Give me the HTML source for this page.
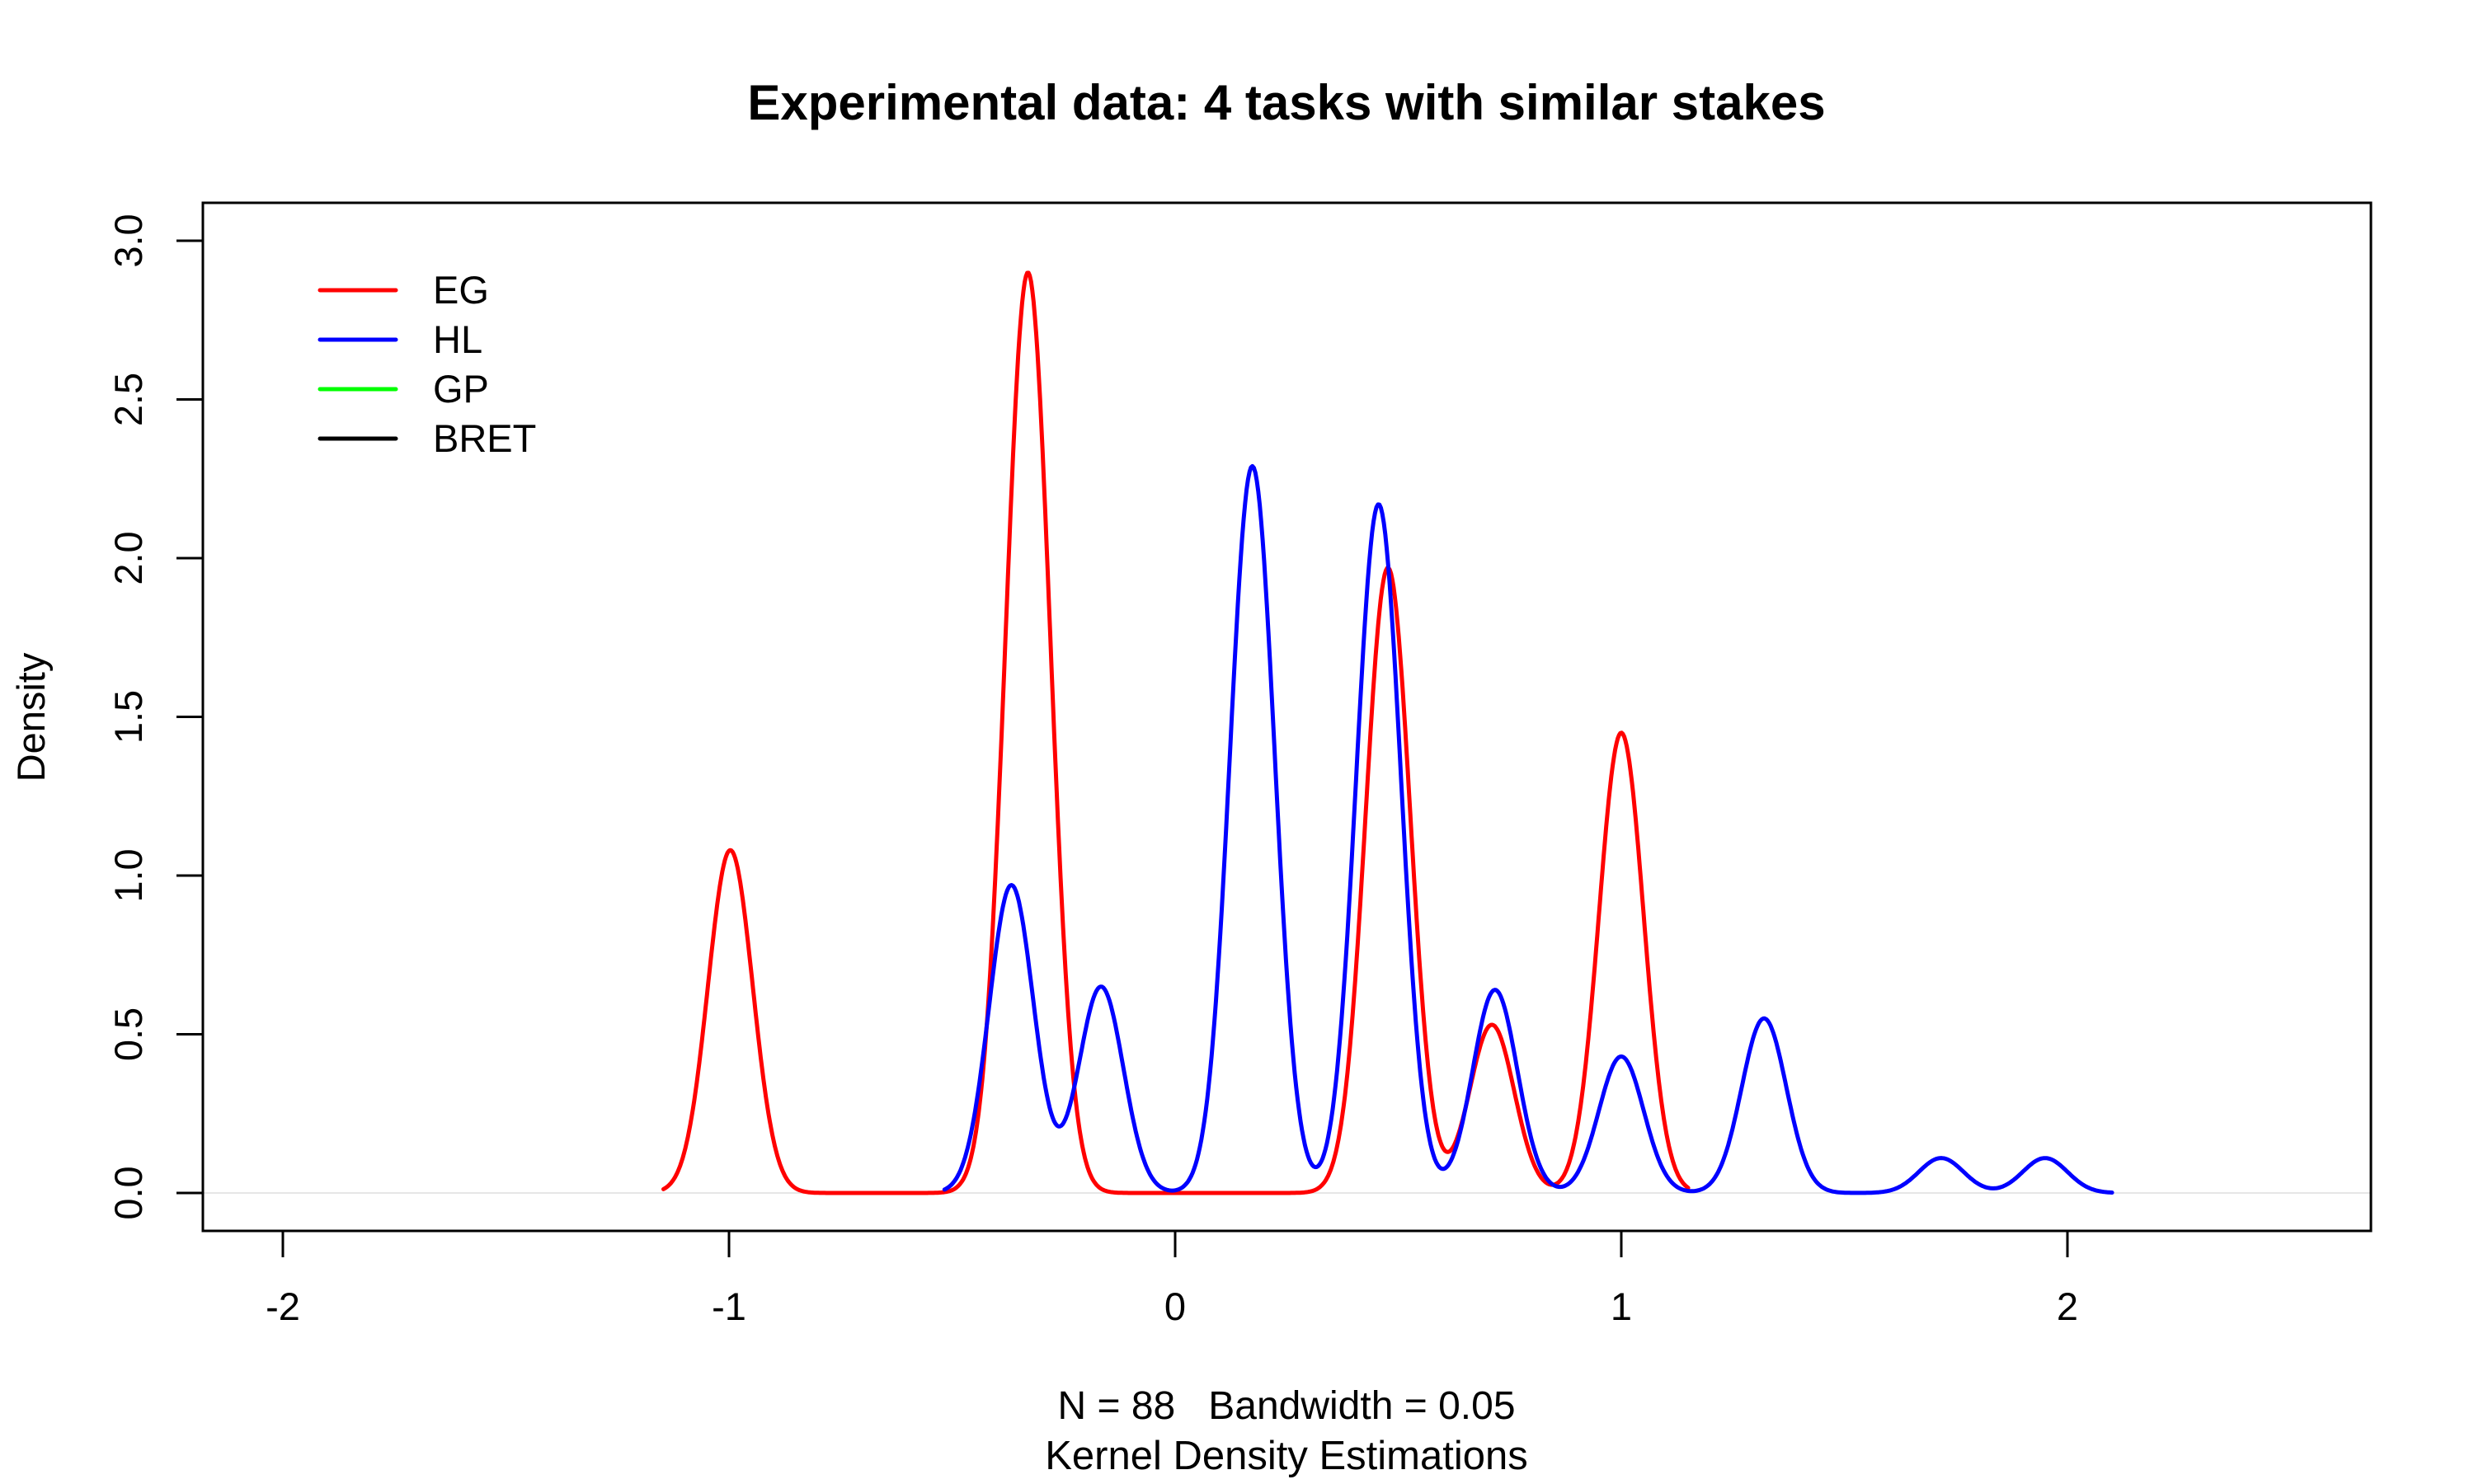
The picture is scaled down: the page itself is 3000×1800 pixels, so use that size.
<!DOCTYPE html>
<html><head><meta charset="utf-8"><style>
html,body{margin:0;padding:0;background:#fff}
svg{display:block;font-family:"Liberation Sans",Arial,sans-serif}
text{white-space:pre}
</style></head><body>
<svg id="chart" width="3000" height="1800" viewBox="0 0 3000 1800" xmlns="http://www.w3.org/2000/svg">
<rect width="3000" height="1800" fill="#fff"/>
<text x="1560" y="145" font-size="60" font-weight="bold" text-anchor="middle">Experimental data: 4 tasks with similar stakes</text>
<line x1="246" x2="2875" y1="1447" y2="1447" stroke="#e6e6e6" stroke-width="2"/>
<g id="axes"></g>
<g id="series"></g>
<rect x="246" y="246" width="2629" height="1247" fill="none" stroke="#000" stroke-width="3"/>
<text transform="translate(54,870) rotate(-90)" font-size="47" text-anchor="middle">Density</text>
<text x="1560" y="1721" font-size="48" text-anchor="middle" xml:space="preserve">N = 88   Bandwidth = 0.05</text>
<text x="1560" y="1782" font-size="49" text-anchor="middle">Kernel Density Estimations</text>
<g>
<line x1="388" x2="480" y1="352" y2="352" stroke="#ff0000" stroke-width="5" stroke-linecap="round"/>
<text x="525" y="368" font-size="47">EG</text>
<line x1="388" x2="480" y1="412" y2="412" stroke="#0000ff" stroke-width="5" stroke-linecap="round"/>
<text x="525" y="428" font-size="47">HL</text>
<line x1="388" x2="480" y1="472" y2="472" stroke="#00ff00" stroke-width="5" stroke-linecap="round"/>
<text x="525" y="488" font-size="47">GP</text>
<line x1="388" x2="480" y1="532" y2="532" stroke="#000" stroke-width="5" stroke-linecap="round"/>
<text x="525" y="548" font-size="47">BRET</text>
</g>
</svg>
<script>
const xTicks = [-2, -1, 0, 1, 2];
const yTicks = [0, 0.5, 1, 1.5, 2, 2.5, 3];
const yTickLabels = ["0.0", "0.5", "1.0", "1.5", "2.0", "2.5", "3.0"];
const bandwidth = 0.05;
const egCenters = [-0.997, -0.33, 0.477, 0.71, 1.0];
const egHeights = [1.08, 2.90, 1.97, 0.53, 1.45];
const hlCenters = [-0.367, -0.166, 0.173, 0.456, 0.717, 1.0, 1.32, 1.717, 1.95];
const hlHeights = [0.97, 0.65, 2.29, 2.17, 0.64, 0.43, 0.55, 0.11, 0.11];

const NS = "http://www.w3.org/2000/svg";
const X = v => 1425 + v * 541;
const Y = v => 1447 - v * 385;
const axes = document.getElementById('axes');
const series = document.getElementById('series');
function mk(tag, attrs, parent) {
  const e = document.createElementNS(NS, tag);
  for (const k in attrs) e.setAttribute(k, attrs[k]);
  parent.appendChild(e);
  return e;
}
xTicks.forEach(t => {
  const l = mk('line', {x1: X(t), x2: X(t), y1: 1493, y2: 1525, stroke: '#000', 'stroke-width': 3}, axes);
  
  
  const tx = mk('text', {x: X(t), y: 1601, 'font-size': 47, 'text-anchor': 'middle'}, axes);
  
  
  tx.textContent = String(t);
});
yTicks.forEach((t, i) => {
  const l = mk('line', {x1: 214, x2: 246, y1: Y(t), y2: Y(t), stroke: '#000', 'stroke-width': 3}, axes);
  
  
  const tx = mk('text', {transform: `translate(172,${Y(t)}) rotate(-90)`, 'font-size': 47, 'text-anchor': 'middle'}, axes);
  
  
  tx.textContent = yTickLabels[i];
});
function curve(centers, heights, color, name) {
  const lo = Math.min(...centers) - 3 * bandwidth, hi = Math.max(...centers) + 3 * bandwidth;
  let d = '';
  const n = 800;
  for (let i = 0; i <= n; i++) {
    const x = lo + (hi - lo) * i / n;
    let y = 0;
    centers.forEach((c, j) => { const z = (x - c) / bandwidth; y += heights[j] * Math.exp(-0.5 * z * z); });
    d += (i ? 'L' : 'M') + X(x).toFixed(1) + ',' + Y(y).toFixed(1);
  }
  const p = mk('path', {d: d, fill: 'none', stroke: color, 'stroke-width': 5, 'stroke-linejoin': 'round', 'stroke-linecap': 'round'}, series);
  
  
}
curve(egCenters, egHeights, '#ff0000', 'eg-density-line');
curve(hlCenters, hlHeights, '#0000ff', 'hl-density-line');
</script>
</body></html>
